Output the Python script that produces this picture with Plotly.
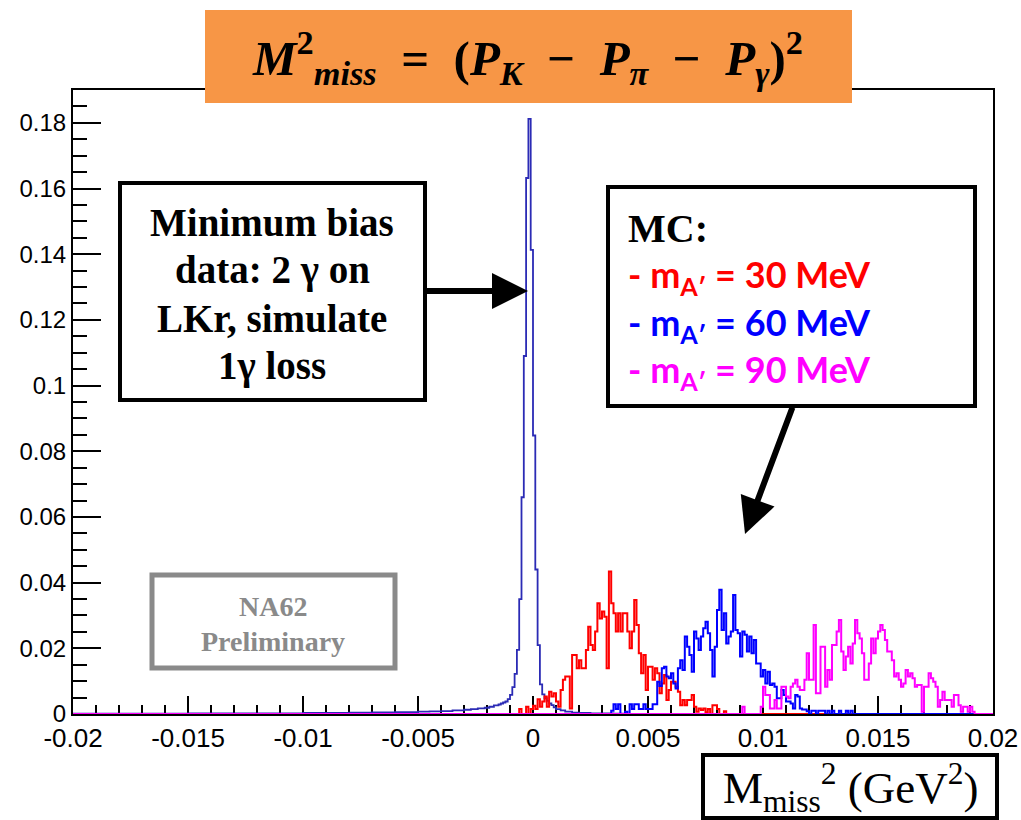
import plotly.graph_objects as go

# ---------------- data ----------------
# Minimum-bias data histogram (variable-width bins: edges + contents)
data_edges = [-0.02, -0.015, -0.012, -0.01, -0.008, -0.007, -0.006, -0.005, -0.0045, -0.004,
              -0.0035, -0.003, -0.0027, -0.0024, -0.0021, -0.0019, -0.0017, -0.0015, -0.0014,
              -0.0013, -0.0012, -0.0011,
              -0.0010, -0.0009, -0.0008, -0.0007, -0.0006, -0.0005, -0.0004, -0.0003, -0.0002,
              -0.0001, 0.0, 0.0001, 0.0002, 0.0003, 0.0004, 0.0005, 0.0006, 0.0007,
              0.0008, 0.0009, 0.0010, 0.0012, 0.0014, 0.0017, 0.0020, 0.0025, 0.0030, 0.0035,
              0.0040, 0.0050, 0.0060, 0.0080, 0.0120, 0.02]
data_counts = [0.0001, 0.00015, 0.0002, 0.0003, 0.0004, 0.0005, 0.0006, 0.0007, 0.0008, 0.0009,
               0.0011, 0.0013, 0.0015, 0.0017, 0.0019, 0.0022, 0.0026, 0.0029, 0.0032,
               0.0035, 0.0038,
               0.0045, 0.0058, 0.0082, 0.0122, 0.0195, 0.0350, 0.0660, 0.1090, 0.1632,
               0.1812, 0.1413, 0.0848, 0.0440, 0.0210, 0.0090, 0.0060, 0.0048, 0.0040,
               0.0032, 0.0027, 0.0020, 0.0015, 0.0011, 0.0007, 0.0004, 0.0003, 0.0002,
               0.00015, 0.0001, 0.00005, 0.00003, 0.00001, 0.0]

mc_bin_width = 0.0001

# MC m_A' = 30 MeV (red)
red_start = -0.0006
red_vals = [0.0015, 0, 0, 0.0022, 0, 0.0015, 0.0025, 0.0015, 0.0045,
            0.0022, 0.0038, 0.0053, 0.0022, 0.0068, 0.0053, 0.0063, 0.0038, 0.0022, 0.0073,
            0.0104, 0.0114, 0.0114, 0.0017, 0.0180, 0.0180, 0.0139, 0.0164, 0.0139, 0.0139,
            0.0195, 0.0266, 0.0210, 0.0195, 0.0251, 0.0337, 0.0291, 0.0312, 0.0296, 0.0139,
            0.0434, 0.0337, 0.0307, 0.0251, 0.0307, 0.0251, 0.0307, 0.0307, 0.0251, 0.0200,
            0.0251, 0.0347, 0.0271, 0.0185, 0.0124, 0.0180, 0.0073, 0.0144, 0.0144, 0.0104,
            0.0139, 0.0124, 0.0063, 0.0093, 0.0119, 0.0043, 0.0073, 0.0098, 0.0098, 0.0083,
            0.0068, 0.0027, 0.0043, 0.0027, 0.0043, 0.0043, 0.0058, 0.0022, 0.0007,
            0.0017, 0.0012, 0.0017, 0.0005, 0.0015, 0, 0.0027, 0.0027, 0.0015, 0, 0, 0.0008]

# MC m_A' = 60 MeV (blue)
blue_start = 0.0034
blue_vals = [0.0010, 0.0030, 0.0015, 0.0030, 0, 0, 0.0007, 0, 0.0030, 0.0015,
             0.0030, 0.0030, 0.0015, 0.0015, 0.0030, 0.0015, 0.0015, 0.0015, 0.0030, 0.0030,
             0.0098, 0.0085, 0.0139, 0.0144, 0.0114, 0.0109, 0.0124, 0.0093, 0.0078, 0.0139,
             0.0164, 0.0134, 0.0236, 0.0205, 0.0180, 0.0129, 0.0251, 0.0230, 0.0195, 0.0236,
             0.0261, 0.0281, 0.0246, 0.0195, 0.0114, 0.0205, 0.0317, 0.0378, 0.0256, 0.0307,
             0.0215, 0.0236, 0.0251, 0.0362, 0.0256, 0.0246, 0.0175, 0.0251, 0.0241, 0.0190,
             0.0236, 0.0185, 0.0225, 0.0154, 0.0154, 0.0114, 0.0134, 0.0093, 0.0129, 0.0088,
             0.0093, 0.0083, 0.0048, 0.0048, 0.0073, 0.0058, 0.0038, 0.0038,
             0.0032, 0.0017, 0.0058, 0.0053, 0.0017, 0.0014, 0.0014, 0.0008, 0, 0.0010,
             0.0010, 0, 0.0010, 0.0008, 0.0010, 0, 0.0010, 0, 0.0010, 0, 0, 0.0010, 0, 0,
             0.0010, 0, 0.0010]

# MC m_A' = 90 MeV (magenta)
mag_start = 0.0091
mag_vals = [0.0022, 0, 0, 0, 0, 0, 0, 0,
            0.0022, 0.0083, 0.0058, 0.0058, 0.0017, 0.0017, 0.0043, 0.0017, 0.0017, 0.0083,
            0.0083, 0.0053, 0.0048, 0.0083, 0.0093, 0.0104, 0.0083, 0.0073, 0.0073, 0.0104,
            0.0185, 0.0104, 0.0104, 0.0271, 0.0063, 0.0063, 0.0205, 0.0205, 0.0083, 0.0134,
            0.0104, 0.0210, 0.0210, 0.0251, 0.0286, 0.0190, 0.0134, 0.0175, 0.0205, 0.0154,
            0.0215, 0.0286, 0.0246, 0.0230, 0.0185, 0.0104, 0.0104, 0.0154, 0.0230, 0.0185,
            0.0230, 0.0251, 0.0271, 0.0256, 0.0225, 0.0190, 0.0190, 0.0164, 0.0114, 0.0124,
            0.0104, 0.0083, 0.0093, 0.0134, 0.0114, 0.0124, 0.0109, 0.0083, 0.0088, 0.0088,
            0.0007, 0.0083, 0.0083, 0.0124, 0.0109, 0.0098, 0.0083, 0.0022, 0.0043, 0.0068,
            0.0043, 0.0043, 0.0043, 0.0022, 0.0058, 0.0058, 0.0027, 0.0007, 0.0022, 0.0022,
            0.0007, 0.0022, 0.0007]

x_tickvals = [-0.02, -0.015, -0.01, -0.005, 0.0, 0.005, 0.01, 0.015, 0.02]
x_ticktext = ["-0.02", "-0.015", "-0.01", "-0.005", "0", "0.005", "0.01", "0.015", "0.02"]
y_tickvals = [0, 0.02, 0.04, 0.06, 0.08, 0.1, 0.12, 0.14, 0.16, 0.18]
y_ticktext = ["0", "0.02", "0.04", "0.06", "0.08", "0.1", "0.12", "0.14", "0.16", "0.18"]

X_MIN, X_MAX = -0.02, 0.02
Y_MAX = 0.19


def outline(edges, vals):
    xs, ys = [X_MIN, edges[0]], [0, 0]
    for i, v in enumerate(vals):
        xs += [edges[i], edges[i + 1]]
        ys += [v, v]
    xs += [edges[-1], X_MAX]
    ys += [0, 0]
    return xs, ys


def uniform_edges(start, n):
    return [start + i * mc_bin_width for i in range(n + 1)]


fig = go.Figure()

dx, dy = outline(data_edges, data_counts)
fig.add_trace(go.Scatter(x=dx, y=dy, mode="lines", line=dict(color="#2b2bb5", width=1.8),
                         hoverinfo="skip", cliponaxis=False))
for start, vals, col in [(red_start, red_vals, "#ff0000"),
                         (blue_start, blue_vals, "#0000ff"),
                         (mag_start, mag_vals, "#ff00ff")]:
    xs, ys = outline(uniform_edges(start, len(vals)), vals)
    fig.add_trace(go.Scatter(x=xs, y=ys, mode="lines", line=dict(color=col, width=2),
                             hoverinfo="skip", cliponaxis=False))

# pixel -> paper helpers (plot area: x 73..993, y 90..714)
L, R, T, B = 73, 993, 90, 714


def px(x):
    return (x - L) / (R - L)


def py(y):
    return (B - y) / (B - T)


shapes = [
    # title box
    dict(type="rect", xref="paper", yref="paper", x0=px(205), x1=px(852), y0=py(103), y1=py(10),
         fillcolor="#F79646", line=dict(width=0), layer="above"),
    # left text box
    dict(type="rect", xref="paper", yref="paper", x0=px(120), x1=px(425), y0=py(400), y1=py(183),
         fillcolor="white", line=dict(color="black", width=4), layer="above"),
    # right MC box
    dict(type="rect", xref="paper", yref="paper", x0=px(608), x1=px(975), y0=py(406), y1=py(187),
         fillcolor="white", line=dict(color="black", width=4), layer="above"),
    # NA62 preliminary box
    dict(type="rect", xref="paper", yref="paper", x0=px(152), x1=px(395), y0=py(668), y1=py(575),
         fillcolor="white", line=dict(color="#8a8a8a", width=5), layer="above"),
    # x-axis title box
    dict(type="rect", xref="paper", yref="paper", x0=px(703), x1=px(997), y0=py(818), y1=py(755),
         fillcolor="white", line=dict(color="black", width=4), layer="above"),
]

serif = "Liberation Serif, Times New Roman, serif"
ann = []

title_txt = ("<b><i>M</i><sup>2</sup><sub><i>miss</i></sub>  =  (<i>P</i><sub><i>K</i></sub>"
             "  −  <i>P</i><sub><i>π</i></sub>  −  <i>P</i><sub><i>γ</i></sub>)<sup>2</sup></b>")
ann.append(dict(text=title_txt, x=px(527), y=py(58), xref="paper", yref="paper",
                showarrow=False, font=dict(family=serif, size=49, color="black"),
                xanchor="center", yanchor="middle"))

for line, yy in zip(["Minimum bias", "data: 2 γ on", "LKr, simulate", "1γ loss"],
                    [222, 270, 318, 366]):
    ann.append(dict(text="<b>%s</b>" % line, x=px(272), y=py(yy), xref="paper", yref="paper",
                    showarrow=False, font=dict(family=serif, size=39, color="black"),
                    xanchor="center", yanchor="middle"))

ann.append(dict(text="<b>MC:</b>", x=px(626), y=py(228), xref="paper", yref="paper",
                showarrow=False, font=dict(family=serif, size=40, color="black"),
                xanchor="left", yanchor="middle"))
for label, col, yy in [("30", "#ff0000", 276), ("60", "#0000ff", 324), ("90", "#ff00ff", 372)]:
    ann.append(dict(text="<b>- m<sub>A′</sub> = %s MeV</b>" % label, x=px(626), y=py(yy),
                    xref="paper", yref="paper", showarrow=False,
                    font=dict(family="Lato, Open Sans, sans-serif", size=36, color=col),
                    xanchor="left", yanchor="middle"))

ann.append(dict(text="<b>NA62</b>", x=px(273), y=py(606), xref="paper", yref="paper",
                showarrow=False, font=dict(family=serif, size=28, color="#8a8a8a"),
                xanchor="center", yanchor="middle"))
ann.append(dict(text="<b>Preliminary</b>", x=px(273), y=py(641), xref="paper", yref="paper",
                showarrow=False, font=dict(family=serif, size=28, color="#8a8a8a"),
                xanchor="center", yanchor="middle"))

ann.append(dict(text="M<sub>miss</sub><sup>2</sup> (GeV<sup>2</sup>)", x=px(851), y=py(787),
                xref="paper", yref="paper", showarrow=False,
                font=dict(family=serif, size=45, color="black"),
                xanchor="center", yanchor="middle"))

# arrows (tail offsets in pixels)
ann.append(dict(text="", x=px(528), y=py(291), xref="paper", yref="paper",
                ax=425 - 528, ay=0, axref="pixel", ayref="pixel",
                showarrow=True, arrowhead=2, arrowsize=1.2, arrowwidth=6, arrowcolor="black"))
ann.append(dict(text="", x=px(745), y=py(534), xref="paper", yref="paper",
                ax=793 - 745, ay=406 - 534, axref="pixel", ayref="pixel",
                showarrow=True, arrowhead=2, arrowsize=1.2, arrowwidth=6, arrowcolor="black"))

fig.update_layout(
    width=1021, height=820,
    margin=dict(l=L, r=1021 - R, t=T, b=820 - B, autoexpand=False),
    paper_bgcolor="white", plot_bgcolor="white",
    showlegend=False,
    shapes=shapes, annotations=ann,
    font=dict(family="Liberation Sans, Arial, sans-serif", color="black"),
)
fig.update_xaxes(range=[X_MIN, X_MAX], showgrid=False, zeroline=False, automargin=False,
                 showline=True, linecolor="black", linewidth=2, mirror=True,
                 layer="below traces",
                 tickmode="array", tickvals=x_tickvals, ticktext=x_ticktext,
                 ticks="inside", ticklen=18, tickwidth=1.5, tickcolor="black",
                 tickfont=dict(size=26, family="Liberation Sans, Arial, sans-serif"),
                 minor=dict(dtick=0.001, tick0=0, ticks="inside", ticklen=9, tickwidth=1.5,
                            tickcolor="black", showgrid=False))
fig.update_yaxes(range=[0, Y_MAX], showgrid=False, zeroline=False, automargin=False,
                 showline=True, linecolor="black", linewidth=2, mirror=True,
                 layer="below traces",
                 tickmode="array", tickvals=y_tickvals, ticktext=y_ticktext,
                 ticks="inside", ticklen=28, tickwidth=1.5, tickcolor="black",
                 tickfont=dict(size=24, family="Liberation Sans, Arial, sans-serif"),
                 minor=dict(dtick=0.005, tick0=0, ticks="inside", ticklen=14, tickwidth=1.5,
                            tickcolor="black", showgrid=False))

fig.write_html("out.html")
